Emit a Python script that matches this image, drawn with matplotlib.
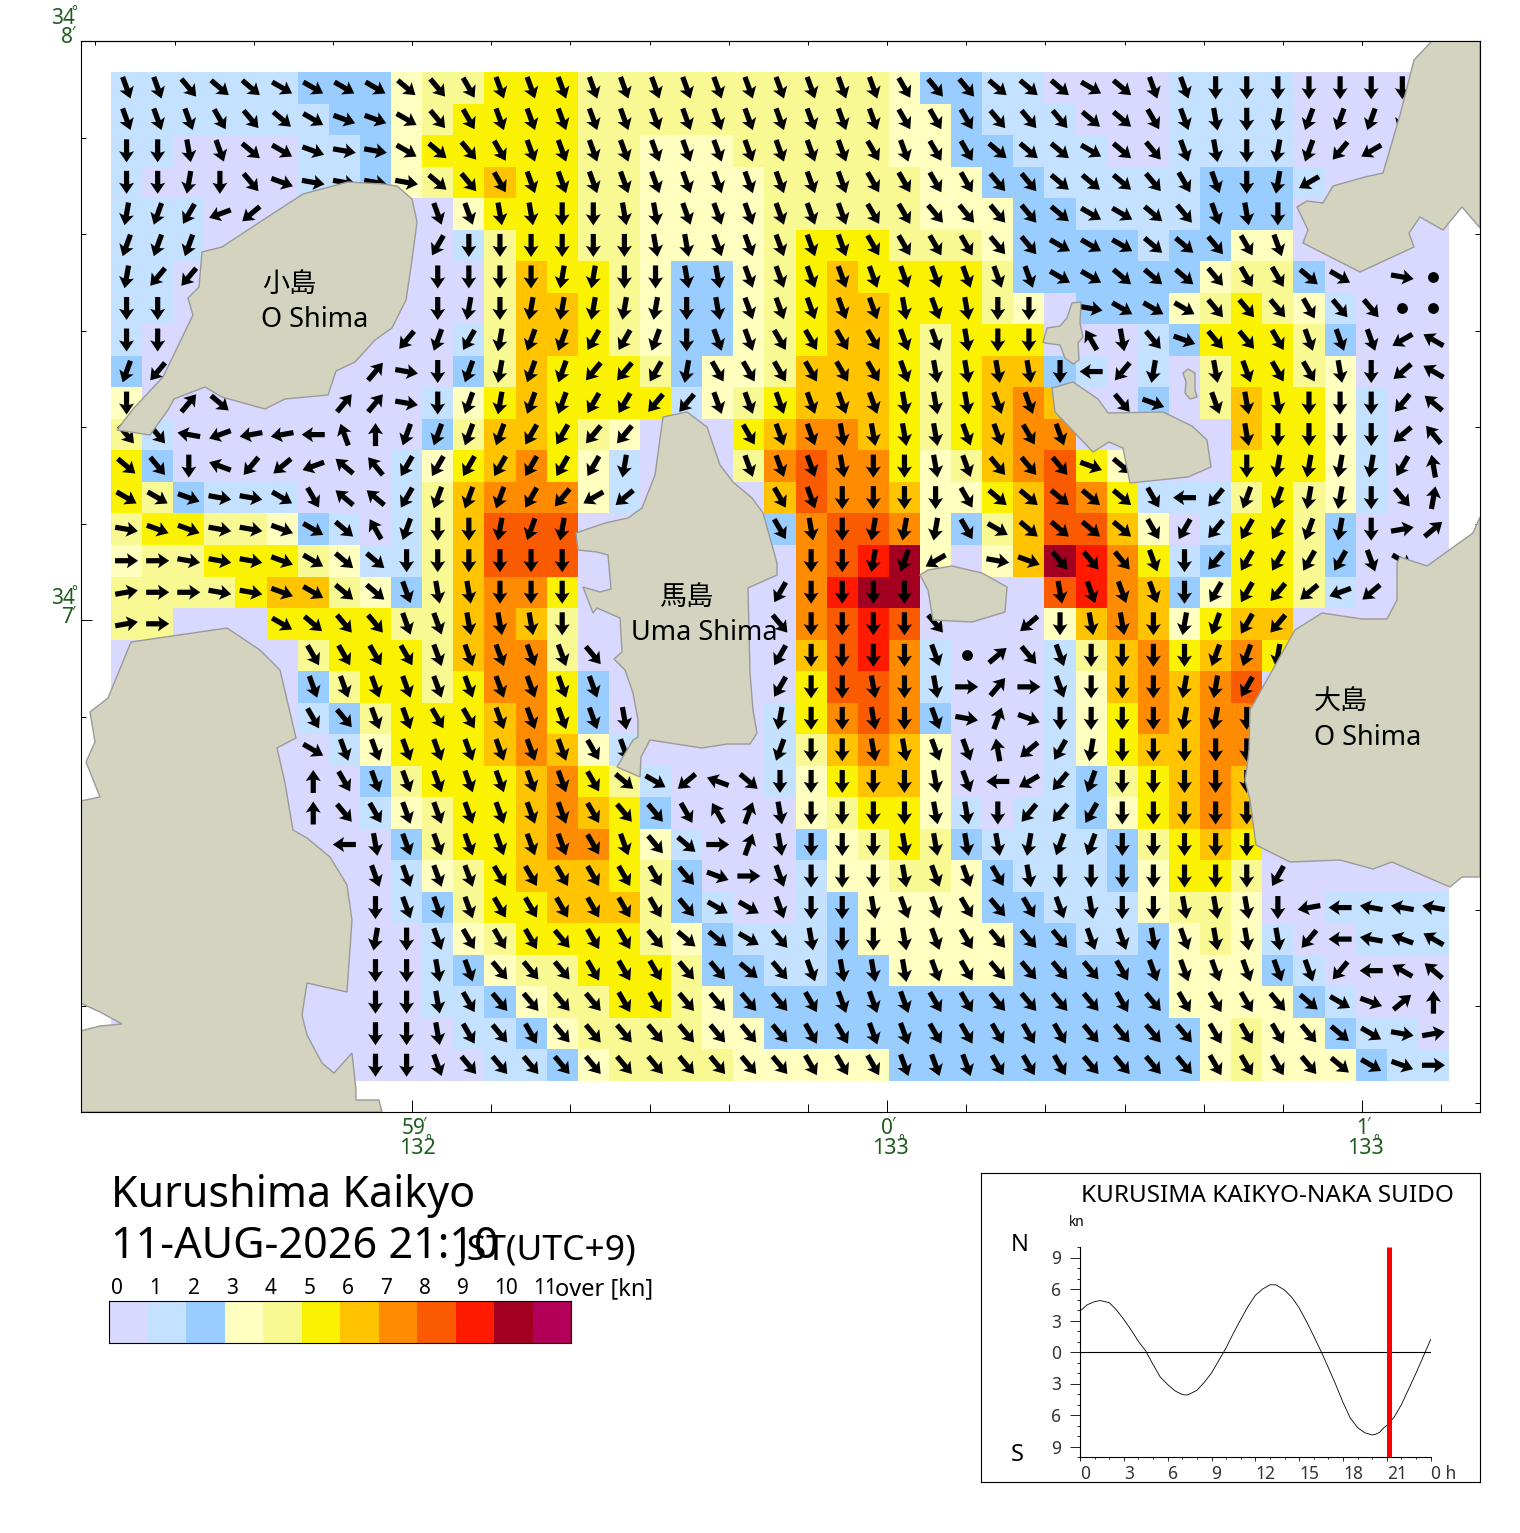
import numpy as np
import matplotlib
matplotlib.use("Agg")
import matplotlib.pyplot as plt
from matplotlib.colors import ListedColormap, BoundaryNorm
from matplotlib.patches import Polygon
from matplotlib.ticker import FixedLocator

plt.rcParams['font.family'] = ['Noto Sans', 'Noto Sans CJK JP', 'DejaVu Sans']

W, H = 1520, 1533
SPEED_COLORS = ['#d9d9ff', '#c4e2ff', '#99ccff', '#ffffbf', '#f9f993', '#faf200',
                '#ffc300', '#ff8c00', '#fa5a00', '#ff1a00', '#a30021', '#b30059']
SPEED_TICKS = ['0', '1', '2', '3', '4', '5', '6', '7', '8', '9', '10', '11']

# speed class per cell, one char each in base 36 (rows north to south)
SPEED_ROWS = [
 "111111222344555" "4444444444" "3221" "10000" "111100000",
 "111111122345555" "4444444444" "3321" "11000" "111100000",
 "110000112355555" "4433344444" "3322" "11100" "111100000",
 "100000112345655" "4433334444" "4332" "21111" "122210000",
 "111000000003555" "4433334444" "4333" "22111" "122200000",
 "111000000001455" "4433334555" "4443" "22221" "223300000",
 "110000000000465" "5432234565" "5554" "22222" "234420000",
 "110000000000466" "5432234566" "5554" "30222" "345431000",
 "100000000001466" "5432234566" "5455" "50001" "255542000",
 "200000000002465" "5542334666" "5456" "62101" "045543000",
 "300000000013565" "5551345666" "5456" "76002" "046553100",
 "410000000024665" "4300056776" "5456" "77000" "006553100",
 "520000000135675" "3100047877" "5346" "78530" "005553100",
 "542111000146777" "3100006877" "6335" "68751" "114543100",
 "455443210146888" "0000002788" "7324" "68863" "015542000",
 "344555431146888" "0000000789" "a303" "6a975" "125542000",
 "444456643246775" "0000000" "7" "9" "aa" "000" "0" "8" "9" "7" "6" "2" "3" "55" "4" "1" "000",
 "44" "000" "5555" "4" "4" "6" "7" "6" "4" "0000000" "7" "8" "9" "8" "000" "0" "3" "6" "7" "6" "3" "5" "66" "00000",
 "000000" "4" "555" "4" "6" "77" "4" "0000000" "6" "8" "9" "7" "1" "00" "0" "1" "4" "6" "7" "5" "6" "7" "5" "00000",
 "000000" "2" "4" "55" "4" "5" "77" "5" "2" "000000" "5" "88" "7" "1" "00" "0" "1" "3" "6" "7" "6" "7" "8" "000000",
 "000000" "1" "2" "4" "555" "6" "7" "5" "2" "0" "0000" "1" "5" "7" "8" "7" "2" "00" "0" "1" "3" "5" "7" "6" "77" "000000",
 "000000" "0" "1" "3" "555" "6" "7" "6" "3" "1" "0000" "1" "4" "6" "7" "6" "3" "00" "0" "1" "3" "5" "66" "77" "000000",
 "000000" "00" "2" "4" "555" "6" "7" "5" "4" "1" "000" "1" "3" "5" "66" "3" "00" "0" "1" "2" "4" "5" "6" "7" "6" "000000",
 "000000" "00" "1" "3" "4" "55" "6" "7" "6" "5" "2" "0000" "3" "4" "55" "3" "1" "0" "1" "1" "2" "3" "5" "6" "7" "6" "000000",
 "000000000" "2" "4" "55" "6" "7" "7" "5" "3" "1" "000" "2" "3" "4" "5" "4" "2" "1" "111" "2" "4" "5" "6" "5" "000000",
 "000000000" "1" "3" "4" "5" "66" "6" "5" "4" "2" "000" "1" "33" "44" "3" "2" "111" "2" "3" "55" "4" "000000",
 "000000000" "1" "2" "4" "55" "6" "66" "4" "2" "1" "00" "1" "2" "3333" "2" "2" "111" "3" "44" "3" "00" "1111",
 "000000000" "0" "1" "3" "4" "55" "55" "4" "3" "2" "111" "2" "33333" "22" "11" "2" "3" "4" "3" "1" "00" "111",
 "0000000000" "1" "2" "3" "4" "4" "555" "4" "22" "11" "22" "3333" "22222" "333" "2" "1" "0000",
 "0000000000" "1" "1" "2" "3" "4" "4" "55" "4" "3" "222222222" "22222" "3333" "2" "1" "000",
 "00000000000" "11" "2" "3" "4444" "33" "22222222" "222222" "3" "4" "33" "2" "11" "0",
 "000000000000" "11" "2" "3" "4444" "33333" "2222" "222222" "3" "4" "333" "2" "11",
]

# direction the current flows to, 10 degree steps in base 36 (0=N, i=S, r=W)
# '.' no arrow, '*' slack water dot
BEARING_ROWS = [
 "ggeddccccdefggg" "gggggggggg" "feed" "ddcdg" "giiiiiii.",
 "gggfedcbbcefggg" "gggggggggg" "fffe" "eeddf" "ghijkkkk.",
 "iihgdcbaacdefgg" "gggggggggf" "gffd" "ddcde" "ghijkmo..",
 "iijiebaaaadefgg" "gggggggggf" "fffe" "eddde" "fgijo....",
 "jklpn.....gghhi" "ihhggggggf" "feee" "edccd" "eghi.....",
 "kkk.......liiii" "iihhgggggf" "fffe" "ecccd" "defg.....",
 "jmm.......iiiij" "jiihhggggg" "gggg" "gccdd" "deffdc.a*",
 "ii........ijijj" "jjjihggggg" "hghi" "i.acc" "ceeefee**",
 "ii.......mkljkk" "llkiggffff" "gghi" "i.xhe" "beefgggou",
 "km......4aikjkk" "mmljffffff" "ghhh" "hirmj" ".hgffhinu",
 "i.4d...44aikjkk" "llmmgggggg" "hhhg" "g..eb" ".ghhiiimv",
 "eespqqry0kkkkll" "mm...fgghh" "hhgg" "fg..." "..hiiiinw",
 "deitmnpvwllllll" "lj...ggghi" "ihge" "eebd." "..ijjjjlz",
 "ccbaacfvvlkkklm" "on....fgii" "iifd" "ddddf" "rmkkjjie1",
 "abbaabcdxkiijkj" "......fhij" "jjfc" "ddddf" "lmllkji85",
 "99aaabcddiiiiii" ".......iij" "ko.a" "beeeg" "imllllgc.",
 "899aabcddghhiii" "......liii" "i..." ".hggg" "illmnpn..",
 "89...cdeegghhhi" "......eiii" "ie.." "nihhi" "jklm.....",
 "......ffffggggg" "e.....liii" "ig*5" "egiii" "ikkj.....",
 "......ggggggggg" "g.....liih" "ih94" "9giii" "jjl......",
 "......feggffggg" "gh....jiih" "iga2" "biiii" "jji......",
 "......cgggggggg" "fg....kiih" "hggz" "nljii" "iii......",
 "......0fggggggg" "fdcntdiiii" "ihgr" "omkii" "iii......",
 "......0efgggggg" "feefx2hiii" "ihhi" "mmlii" "iii......",
 ".......rhgggggg" "fged92hiii" "hhhh" "jkkii" "iii......",
 "........ggggfff" "fffeb9giii" "hggf" "hiiii" "iiil.....",
 "........igggfff" "fffeccgiih" "ggfe" "fghii" "hhhiqrsss",
 "........jigfffe" "ffeddcehii" "hgfe" "eeggh" "ghhhmrstu",
 "........iihgeee" "fffeedeghh" "hgfe" "eeefg" "gggggmruv",
 "........iihfeee" "effeeeefgg" "gffe" "eeefe" "fffedcb50",
 "........iihfefe" "eeeeeeeffg" "gfff" "ffeee" "efffedca8",
 "........iigeeee" "eeeeeeefff" "gggf" "ffeee" "efffedcb9",
]

# coast outlines as traced on the chart sheet (sheet x, sheet y)
COAST_KO = [(117,430),(150,435),(168,410),(174,399),(205,387),(222,397),(265,409),(285,399),(328,395),(336,371),(355,362),(375,340),(392,328),(406,300),(412,260),(417,222),(412,199),(397,186),(383,184),(348,182),(303,194),(263,220),(228,243),(222,247),(202,252),(199,287),(188,298),(193,315),(163,377),(133,409)]
COAST_NE = [(1432,41),(1414,60),(1400,115),(1383,173),(1365,177),(1333,186),(1323,203),(1307,201),(1297,207),(1308,230),(1303,243),(1360,272),(1414,247),(1409,233),(1420,217),(1443,230),(1462,207),(1480,228),(1480,41)]
COAST_ISLET1 = [(1043,342),(1047,328),(1060,326),(1067,318),(1072,303),(1081,302),(1080,323),(1083,337),(1078,343),(1079,360),(1073,364),(1065,358),(1060,345),(1045,343)]
COAST_ISLET2 = [(1183,373),(1188,369),(1195,373),(1195,390),(1197,397),(1190,399),(1185,393),(1186,382)]
COAST_MID = [(1052,388),(1073,382),(1098,399),(1108,413),(1163,412),(1192,426),(1207,440),(1211,467),(1188,477),(1130,483),(1123,448),(1109,442),(1093,452),(1055,412)]
COAST_UMA = [(687,412),(663,417),(655,475),(642,508),(628,518),(605,523),(576,533),(578,550),(597,552),(608,555),(611,589),(600,592),(583,587),(593,613),(597,608),(620,618),(622,652),(614,659),(625,670),(633,693),(638,720),(638,737),(633,740),(617,767),(640,777),(641,757),(650,740),(702,748),(727,744),(750,744),(757,733),(753,710),(750,673),(748,588),(777,575),(777,563),(763,513),(752,498),(733,482),(720,465),(707,427)]
COAST_SMALL = [(920,575),(928,570),(952,566),(982,573),(1007,587),(1005,612),(972,622),(933,620),(928,590)]
COAST_OSHIMA = [(1480,517),(1473,533),(1427,566),(1400,557),(1397,563),(1397,600),(1387,619),(1362,619),(1322,613),(1295,630),(1250,710),(1249,750),(1247,767),(1245,780),(1250,800),(1256,845),(1290,862),(1340,860),(1373,869),(1392,862),(1450,887),(1462,877),(1480,877)]
COAST_SW = [(131,642),(227,628),(260,650),(280,670),(296,738),(277,748),(285,783),(293,830),(307,838),(330,857),(347,885),(352,920),(347,992),(307,983),(302,1015),(307,1035),(322,1063),(334,1073),(352,1053),(356,1090),(356,1100),(379,1100),(382,1112),(80.5,1112),(80.5,1031),(100,1026),(122,1024),(100,1012),(80.5,1003),(80.5,801),(100,797),(86,762),(95,742),(90,712),(108,698)]
COASTS = [COAST_KO, COAST_NE, COAST_ISLET1, COAST_ISLET2, COAST_MID, COAST_UMA, COAST_SMALL, COAST_OSHIMA, COAST_SW]

# tidal curve at the reference station
TIDE_HOURS = [0,.5,1,1.4,2,2.5,3,3.5,4,4.5,5,5.5,6,6.5,7,7.3,7.5,8,8.5,9,9.5,10,10.5,11,11.5,12,12.5,13,13.4,14,14.5,15,15.5,16,16.5,17,17.5,18,18.5,19,19.5,20,20.2,20.5,20.8,21,21.5,22,22.5,23,23.5,24]
TIDE_KNOTS = [3.9,4.5,4.8,4.9,4.7,4.0,3.1,2.1,1.0,.1,-1.2,-2.4,-3.1,-3.7,-4.05,-4.1,-4.0,-3.65,-2.9,-2.0,-.8,.4,1.8,3.1,4.35,5.4,6.0,6.4,6.4,5.9,5.2,4.2,2.9,1.5,.05,-1.5,-3.1,-4.8,-6.3,-7.2,-7.7,-7.9,-7.85,-7.65,-7.2,-7.0,-6.2,-5.0,-3.5,-2.0,-.4,1.2]
NOW_HOUR = 21 + 10 / 60
TIDE_X_TICKS = ['0', '3', '6', '9', '12', '15', '18', '21', '0 h']
TIDE_Y_TICKS = ['9', '6', '3', '0', '3', '6', '9']

GREEN = '#1d5c1d'
LAND = '#d3d3bf'


def lon_of(px):
    return (np.asarray(px, float) - 887.0) / 475.0


def lat_of(py):
    return 8.0 - (np.asarray(py, float) - 41.0) / 579.0


def sheet_text(x, y, s, size, ha='left', va='center', color='black', **kw):
    y = y + 0.12 * size
    fig.text(x / W, 1 - y / H, s, fontsize=size, ha=ha, va=va, color=color, **kw)


fig = plt.figure(figsize=(W / 100, H / 100), dpi=100)
fig.patch.set_facecolor('white')

# ---- map ----
ax = fig.add_axes([80.5 / W, 1 - 1112 / H, 1399.5 / W, 1071 / H])
ax.set_xlim(lon_of(80.5), lon_of(1480))
ax.set_ylim(lat_of(1112), lat_of(41))

speed = np.array([[int(c, 36) for c in r] for r in SPEED_ROWS], float)
nrow, ncol = speed.shape
x_edges = np.linspace(lon_of(111), lon_of(1449), ncol + 1)
y_edges = np.linspace(lat_of(72), lat_of(1081), nrow + 1)
cmap = ListedColormap(SPEED_COLORS)
norm = BoundaryNorm(np.arange(-.5, 12.5), 12)
ax.pcolormesh(x_edges, y_edges, speed, cmap=cmap, norm=norm, zorder=1, linewidth=0,
              antialiased=False)

xc = (x_edges[:-1] + x_edges[1:]) / 2
yc = (y_edges[:-1] + y_edges[1:]) / 2
qx, qy, qu, qv, dx, dy = [], [], [], [], [], []
for j, row in enumerate(BEARING_ROWS):
    for i, c in enumerate(row):
        if c == '.':
            continue
        if c == '*':
            dx.append(xc[i]); dy.append(yc[j])
            continue
        b = np.deg2rad(int(c, 36) * 10)
        qx.append(xc[i]); qy.append(yc[j]); qu.append(np.sin(b)); qv.append(np.cos(b))
ax.quiver(qx, qy, qu, qv, angles='uv', units='dots', scale_units='dots', scale=1 / 23,
          width=5.2, headwidth=2.9, headlength=2.15, headaxislength=1.85, pivot='mid',
          color='black', zorder=2)
ax.plot(dx, dy, 'o', color='black', ms=7.8, mew=0, zorder=2)

for c in COASTS:
    pts = np.array(c, float)
    ax.add_patch(Polygon(np.column_stack([lon_of(pts[:, 0]), lat_of(pts[:, 1])]),
                         closed=True, fc=LAND, ec='#9a9a9a', lw=1.0, zorder=3))

for s in ax.spines.values():
    s.set_linewidth(0.8)
    s.set_zorder(6)

x_major = [-1, 0, 1]
x_minor = [k / 6 for k in range(-18, 12)]
x_minor = [v for v in x_minor if lon_of(80.5) < v < lon_of(1480)]
y_major = [7]
y_minor = [k / 6 for k in range(37, 49)]
ax.xaxis.set_major_locator(FixedLocator(x_major))
ax.xaxis.set_minor_locator(FixedLocator(x_minor))
ax.yaxis.set_major_locator(FixedLocator(y_major))
ax.yaxis.set_minor_locator(FixedLocator(y_minor))
ax.tick_params(axis='x', which='major', direction='in', length=8.5, width=0.7, bottom=True, labelbottom=False)
ax.tick_params(axis='x', which='minor', direction='in', length=5.8, width=0.7, bottom=True)
ax.tick_params(axis='y', which='major', direction='in', length=8, width=0.7, left=True, right=True, labelleft=False)
ax.tick_params(axis='y', which='minor', direction='in', length=3.6, width=0.7, left=True, right=True)
top = ax.secondary_xaxis('top')
top.xaxis.set_major_locator(FixedLocator(x_major + x_minor))
top.tick_params(axis='x', direction='in', length=3.2, width=0.7, labeltop=False)
top.spines['top'].set_linewidth(0.8)

# place names
for x, y, s in [(262, 283, '小島'), (261, 318, 'O Shima'), (659, 596, '馬島'), (631, 631, 'Uma Shima'),
                (1314, 700, '大島'), (1314, 736, 'O Shima')]:
    sheet_text(x, y, s, 19.5, zorder=10)

# graticule labels
for x, y, d, m in [(63, 17, '34', "8"), (63, 597, '34', "7")]:
    sheet_text(x, y, d, 15, ha='center', color=GREEN)
    sheet_text(x + 11, y - 5, '°', 10, ha='center', color=GREEN)
    sheet_text(x + 4, y + 19, m, 15, ha='center', color=GREEN)
    sheet_text(x + 10, y + 14, '′', 11, ha='center', color=GREEN)
for x, m, d in [(414, '59', '132'), (887, '0', '133'), (1362, '1', '133')]:
    sheet_text(x, 1127, m, 15, ha='center', color=GREEN)
    sheet_text(x + (10 if len(m) > 1 else 6), 1122, '′', 11, ha='center', color=GREEN)
    sheet_text(x + 3, 1147, d, 15.5, ha='center', color=GREEN)
    sheet_text(x + 14, 1141, '°', 10, ha='center', color=GREEN)

# titles
sheet_text(111, 1192, 'Kurushima Kaikyo', 31)
sheet_text(111, 1243, '11-AUG-2026 21:10', 31)
sheet_text(458, 1247, 'JST(UTC+9)', 25.5)

# ---- speed scale ----
cax = fig.add_axes([109 / W, 1 - 1343 / H, 462 / W, 42 / H])
cax.pcolormesh(np.arange(13), [0, 1], np.arange(12)[None, :], cmap=cmap, norm=norm, antialiased=False)
cax.set_xticks([]); cax.set_yticks([])
for s in cax.spines.values():
    s.set_linewidth(0.8)
for i, t in enumerate(SPEED_TICKS):
    cax.text(i + (0.2 if len(t) == 1 else 0.32), 1.29, t, fontsize=15, ha='center', va='center')
cax.text(11.58, 1.29, 'over [kn]', fontsize=17, ha='left', va='center')

# ---- tide panel ----
box = fig.add_axes([981 / W, 1 - 1482 / H, 499 / W, 309 / H])
box.set_xticks([]); box.set_yticks([])
for s in box.spines.values():
    s.set_linewidth(0.8)
sheet_text(1081, 1194, 'KURUSIMA KAIKYO-NAKA SUIDO', 17.5)
sheet_text(1069, 1221, 'kn', 10)
sheet_text(1011, 1243, 'N', 17)
sheet_text(1011, 1453, 'S', 17)

tax = fig.add_axes([1080 / W, 1 - 1457 / H, 350.7 / W, 210 / H])
tax.patch.set_alpha(0)
tax.set_xlim(0, 24); tax.set_ylim(-10, 10)
tax.spines['top'].set_visible(False); tax.spines['right'].set_visible(False)
tax.spines['left'].set_linewidth(0.8); tax.spines['bottom'].set_linewidth(0.8)
tax.plot(TIDE_HOURS, TIDE_KNOTS, color='black', lw=0.6)
tax.plot([0, 24], [0, 0], color='black', lw=0.8)
tax.plot([NOW_HOUR, NOW_HOUR], [-10, 10], color='#ff0000', lw=3.6, solid_capstyle='butt', zorder=5)
tax.set_xticks(np.arange(0, 25, 3)); tax.set_xticks(np.arange(0, 25), minor=True)
tax.set_yticks([9, 6, 3, 0, -3, -6, -9]); tax.set_yticks(np.arange(-10, 11), minor=True)
tax.set_xticklabels(TIDE_X_TICKS, fontsize=12.5, color='#333333', ha='left')
tax.set_yticklabels(TIDE_Y_TICKS, fontsize=12.5, color='#333333')
tax.tick_params(axis='x', which='major', length=3, width=0.6, pad=2.5)
tax.tick_params(axis='x', which='minor', length=1.5, width=0.6)
tax.tick_params(axis='y', which='major', length=7, width=0.6, pad=6.5)
tax.tick_params(axis='y', which='minor', length=2.5, width=0.6)

fig.savefig('out.png', dpi=100, facecolor='white')
